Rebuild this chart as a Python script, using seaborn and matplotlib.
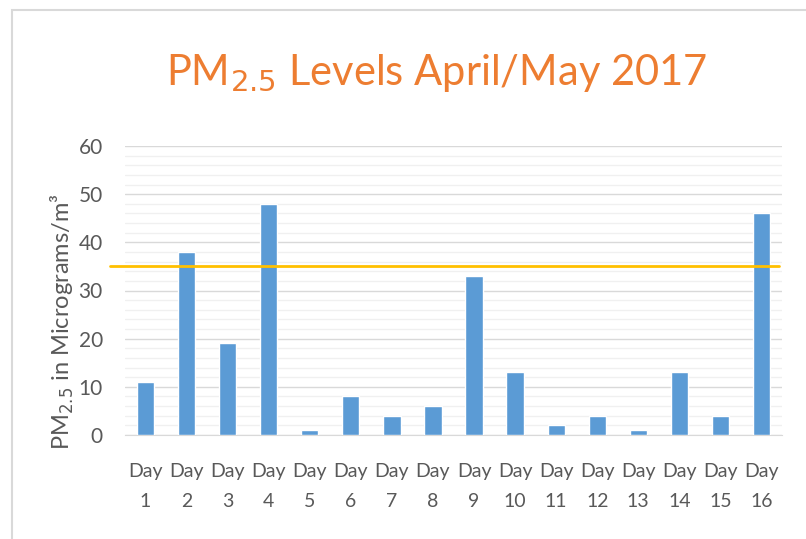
import matplotlib
matplotlib.use("Agg")
import matplotlib.pyplot as plt
from matplotlib.patches import Rectangle
from matplotlib.ticker import MultipleLocator
import pandas as pd
import seaborn as sns

days = [f"Day\n{i}" for i in range(1, 17)]
pm25 = [11, 38, 19, 48, 1, 8, 4, 6, 33, 13, 2, 4, 1, 13, 4, 46]
limit = 35

df = pd.DataFrame({"day": days, "pm25": pm25})

sns.set_style("white")
plt.rcParams['font.family'] = ['Lato', 'DejaVu Sans']
grey = "#595959"

fig = plt.figure(figsize=(8.06, 5.39), dpi=100)
ax = fig.add_axes([125 / 806, 1 - 435 / 539, 657 / 806, 289 / 539])

sns.barplot(data=df, x="day", y="pm25", color="#5B9BD5", saturation=1,
            width=0.42, ax=ax, zorder=3)

# threshold line
ax.axhline(limit, xmin=-0.023, xmax=0.995, color="#FFC000", lw=2,
           clip_on=False, zorder=4)

ax.set_ylim(0, 60)
ax.set_xlim(-0.5, 15.5)
ax.yaxis.set_major_locator(MultipleLocator(10))
ax.yaxis.set_minor_locator(MultipleLocator(2))
ax.grid(axis="y", which="major", color="#D9D9D9", lw=1, zorder=0)
ax.grid(axis="y", which="minor", color="#F0F0F0", lw=1, zorder=0)
ax.set_axisbelow(True)
for s in ["top", "right", "left"]:
    ax.spines[s].set_visible(False)
ax.spines["bottom"].set_color("#D9D9D9")
ax.tick_params(axis="both", which="both", length=0, colors=grey)
ax.tick_params(axis="x", pad=20, labelsize=14)
for lbl in ax.get_xticklabels():
    lbl.set_linespacing(1.95)
ax.tick_params(axis="y", pad=16, labelsize=15)
ax.set_xlabel("")
ax.set_ylabel("")

fig.text(437 / 806, 1 - 73 / 539, r"PM$_{2.5}$ Levels April/May 2017",
         color="#ED7D31", fontsize=30, ha="center", va="center")
fig.text(62 / 806, 1 - 322 / 539, r"PM$_{2.5}$ in Micrograms/m³",
         color=grey, fontsize=17, rotation=90, ha="center", va="center")

fig.patches.append(Rectangle((12 / 806, -0.1), 1.1, 1 - 10 / 539 + 0.1,
                             transform=fig.transFigure, fill=False,
                             edgecolor="#D9D9D9", lw=1.5))

fig.savefig("out.png", dpi=100)
